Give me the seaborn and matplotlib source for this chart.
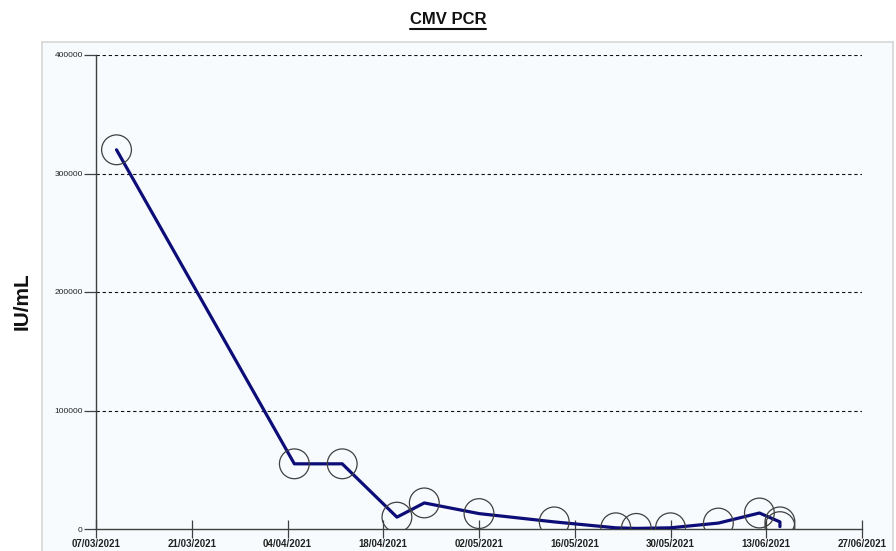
import pandas as pd
import seaborn as sns
import matplotlib.pyplot as plt
from matplotlib.lines import Line2D

# values
dates = ['2021-03-10', '2021-04-05', '2021-04-12', '2021-04-20', '2021-04-24',
         '2021-05-02', '2021-05-13', '2021-05-22', '2021-05-25', '2021-05-30',
         '2021-06-06', '2021-06-12', '2021-06-15', '2021-06-15']
iu_ml = [320000, 55000, 55000, 10000, 22000,
         13000, 6000, 1000, 500, 1000,
         5000, 13500, 6000, 2000]

x_ticks = ['07/03/2021', '21/03/2021', '04/04/2021', '18/04/2021', '02/05/2021',
           '16/05/2021', '30/05/2021', '13/06/2021', '27/06/2021']
y_ticks = [0, 100000, 200000, 300000, 400000]

df = pd.DataFrame({'Date': pd.to_datetime(dates), 'IU/mL': iu_ml})
tick_dates = pd.to_datetime(x_ticks, format='%d/%m/%Y')

sns.set_theme(style='white')
plt.rcParams['font.family'] = ['Liberation Sans', 'DejaVu Sans']

fig = plt.figure(figsize=(8.96, 5.51), dpi=100)
fig.patch.set_facecolor('white')

# light panel behind the plot
bg = fig.add_axes([42 / 896, -0.01, (893 - 42) / 896, (551 - 42) / 551 + 0.01], zorder=-1)
bg.set_facecolor('#f8fbfd')
bg.set_xticks([])
bg.set_yticks([])
for s in bg.spines.values():
    s.set_color('#d6d6d6')
    s.set_linewidth(1.2)

ax = fig.add_axes([96 / 896, 22 / 551, (862 - 96) / 896, (529 - 55) / 551])
ax.set_facecolor('none')

sns.lineplot(x='Date', y='IU/mL', data=df, ax=ax, color='#0d0d78', linewidth=2.3,
             sort=False, estimator=None, zorder=3)
sns.scatterplot(x='Date', y='IU/mL', data=df, ax=ax, s=460, facecolors='none',
                edgecolor='#404040', linewidth=0.9, zorder=4)

ax.set_xlim(tick_dates[0], tick_dates[-1])
ax.set_ylim(0, 400000)

ax.set_xticks(tick_dates)
ax.set_xticklabels(x_ticks, fontsize=7, fontweight='bold', color='#222222')
ax.set_yticks(y_ticks)
ax.set_yticklabels([str(v) for v in y_ticks], fontsize=6, color='#222222')

ax.tick_params(axis='x', direction='inout', length=13, width=0.9, color='#404040', pad=1)
ax.tick_params(axis='y', direction='out', length=9, width=0.9, color='#404040', pad=0.5)
ax.tick_params(bottom=True, left=True)

for y in y_ticks[1:]:
    ax.axhline(y, color='#111111', linewidth=0.8, linestyle=(0, (3, 2.5)), zorder=1)

for side in ['top', 'right']:
    ax.spines[side].set_visible(False)
for side in ['left', 'bottom']:
    ax.spines[side].set_color('#404040')
    ax.spines[side].set_linewidth(1.0)

ax.set_xlabel('')
ax.set_ylabel('')
fig.text(22 / 896, 1 - 301 / 551, 'IU/mL', rotation=90, fontsize=15, fontweight='bold',
         ha='center', va='center', color='#111111')

# title with underline
title = fig.text(0.5, 1 - 20 / 551, 'CMV PCR', fontsize=12, fontweight='bold',
                 ha='center', va='center', color='#111111')
fig.canvas.draw()
bb = title.get_window_extent().transformed(fig.transFigure.inverted())
fig.lines.append(Line2D([bb.x0, bb.x1], [bb.y0 - 0.002, bb.y0 - 0.002],
                        transform=fig.transFigure, color='#111111', linewidth=1.5))

fig.savefig('out.png', dpi=100)
